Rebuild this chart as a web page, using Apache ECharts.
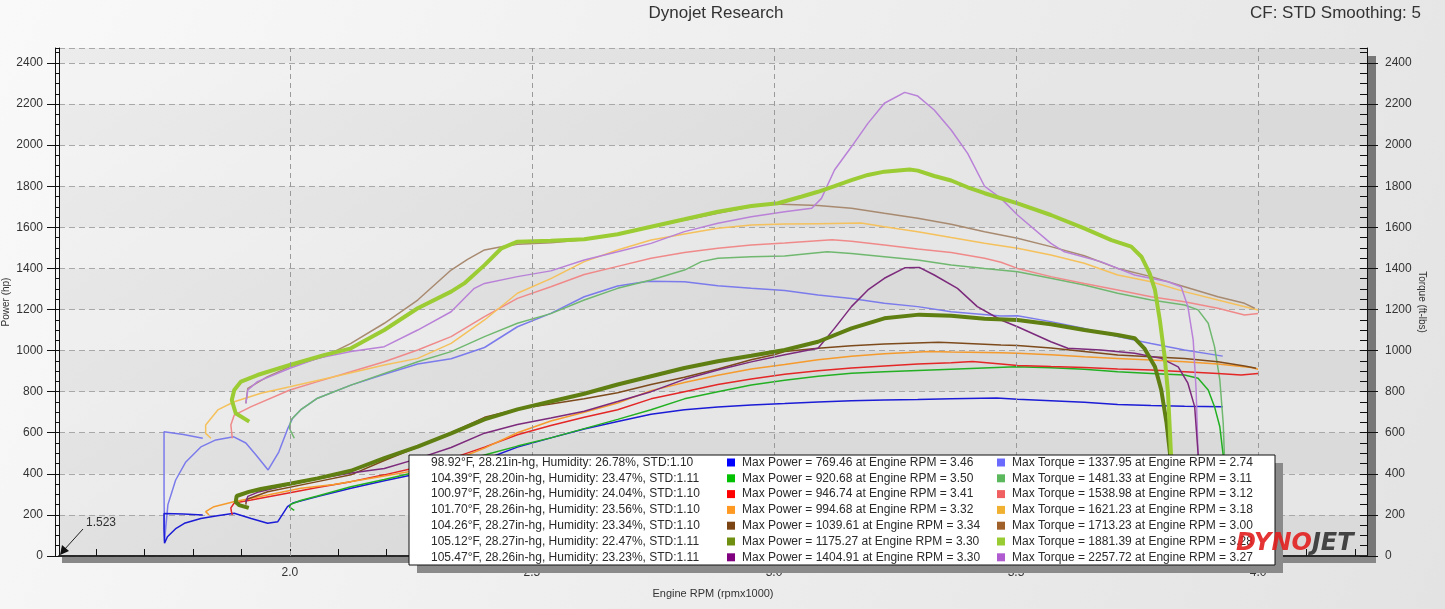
<!DOCTYPE html>
<html>
<head>
<meta charset="utf-8">
<title>Dynojet Research</title>
<script src="https://cdn.jsdelivr.net/npm/echarts@6/dist/echarts.min.js"></script>
<style>
  html, body { margin: 0; padding: 0; }
  #chart { width: 1445px; height: 609px; }
</style>
</head>
<body>
<div id="chart"></div>
<script>
// ---- run data, [rpm x1000, value] ----
var bluePower = [[1.820,200],[1.780,204],[1.740,207],[1.740,130],[1.741,62],[1.747,94],[1.765,135],[1.782,159],[1.816,183],[1.850,196],[1.885,208],[1.920,183],[1.954,159],[1.975,167],[1.995,240],[2.006,258],[2.057,290],[2.126,330],[2.195,366],[2.264,400],[2.333,428],[2.402,470],[2.470,530],[2.539,575],[2.608,618],[2.677,655],[2.746,690],[2.815,712],[2.884,725],[2.953,735],[3.022,742],[3.091,750],[3.160,756],[3.228,760],[3.297,762],[3.366,765],[3.460,769],[3.503,763],[3.572,756],[3.641,748],[3.710,738],[3.779,733],[3.848,729],[3.927,727]];
var blueTorque = [[1.820,573],[1.780,592],[1.740,605],[1.740,300],[1.741,75],[1.748,250],[1.764,370],[1.785,458],[1.816,531],[1.847,565],[1.884,580],[1.909,550],[1.930,492],[1.955,419],[1.977,506],[1.996,623],[2.006,672],[2.022,711],[2.057,768],[2.126,832],[2.195,885],[2.264,935],[2.333,960],[2.402,1015],[2.470,1116],[2.539,1181],[2.608,1262],[2.677,1314],[2.740,1338],[2.815,1335],[2.884,1316],[2.953,1303],[3.022,1292],[3.091,1271],[3.160,1254],[3.228,1230],[3.297,1214],[3.366,1189],[3.469,1168],[3.503,1170],[3.572,1141],[3.641,1108],[3.710,1068],[3.779,1035],[3.848,1003],[3.927,973]];
var greenPower = [[2.009,222],[1.999,238],[2.002,252],[2.022,270],[2.057,292],[2.126,337],[2.195,372],[2.264,410],[2.333,445],[2.402,492],[2.470,535],[2.539,575],[2.608,620],[2.677,665],[2.746,712],[2.815,765],[2.884,800],[2.953,832],[3.022,855],[3.091,875],[3.160,890],[3.228,897],[3.297,903],[3.366,909],[3.500,921],[3.572,916],[3.641,909],[3.710,897],[3.779,889],[3.848,881],[3.876,865],[3.897,808],[3.910,727],[3.921,629],[3.930,450],[3.933,100]];
var greenTorque = [[2.009,573],[1.999,622],[2.002,662],[2.022,711],[2.057,768],[2.126,832],[2.195,889],[2.264,946],[2.333,995],[2.402,1068],[2.470,1133],[2.539,1180],[2.608,1246],[2.677,1303],[2.746,1344],[2.815,1392],[2.850,1433],[2.884,1449],[2.953,1457],[3.022,1460],[3.110,1481],[3.160,1473],[3.228,1457],[3.297,1441],[3.366,1417],[3.435,1400],[3.503,1384],[3.572,1352],[3.641,1319],[3.710,1279],[3.779,1246],[3.848,1222],[3.876,1198],[3.897,1133],[3.910,1019],[3.921,857],[3.928,646],[3.931,450],[3.933,100]];
var redPower = [[1.881,200],[1.879,218],[1.878,234],[1.885,258],[1.920,273],[2.000,308],[2.057,333],[2.126,362],[2.195,395],[2.264,432],[2.333,474],[2.402,530],[2.470,590],[2.539,635],[2.608,675],[2.677,712],[2.746,765],[2.815,800],[2.884,835],[2.953,862],[3.022,885],[3.091,902],[3.160,915],[3.228,925],[3.297,935],[3.366,941],[3.410,947],[3.469,935],[3.503,927],[3.572,922],[3.641,918],[3.710,910],[3.779,905],[3.848,897],[3.917,889],[3.965,881],[4.000,889]];
var redTorque = [[1.881,573],[1.878,638],[1.885,686],[1.920,727],[2.000,808],[2.057,849],[2.126,897],[2.195,946],[2.264,1003],[2.333,1068],[2.402,1165],[2.470,1254],[2.539,1311],[2.608,1370],[2.677,1410],[2.746,1449],[2.815,1477],[2.884,1498],[2.953,1514],[3.022,1524],[3.120,1539],[3.160,1532],[3.228,1514],[3.297,1495],[3.366,1478],[3.435,1449],[3.469,1430],[3.503,1400],[3.572,1360],[3.641,1327],[3.710,1295],[3.779,1262],[3.848,1238],[3.917,1206],[3.972,1173],[4.000,1181]];
var orangePower = [[1.833,200],[1.826,216],[1.843,240],[1.884,264],[1.954,297],[2.023,330],[2.091,348],[2.195,389],[2.264,418],[2.333,460],[2.402,525],[2.470,600],[2.539,657],[2.608,700],[2.677,745],[2.746,805],[2.815,845],[2.884,880],[2.953,910],[3.022,932],[3.091,955],[3.160,972],[3.228,985],[3.320,995],[3.366,993],[3.469,990],[3.503,987],[3.572,980],[3.641,970],[3.710,962],[3.779,954],[3.848,946],[3.917,935],[3.986,918],[4.000,909]];
var orangeTorque = [[1.837,573],[1.826,597],[1.826,638],[1.851,711],[1.885,751],[1.940,792],[2.000,824],[2.091,873],[2.195,930],[2.264,962],[2.333,1035],[2.402,1149],[2.470,1279],[2.539,1350],[2.608,1433],[2.677,1490],[2.746,1538],[2.815,1567],[2.884,1595],[2.953,1611],[3.022,1616],[3.091,1618],[3.180,1621],[3.228,1603],[3.297,1579],[3.366,1550],[3.435,1522],[3.503,1498],[3.572,1465],[3.641,1425],[3.710,1368],[3.779,1335],[3.848,1287],[3.917,1246],[4.000,1198]];
var brownPower = [[1.909,250],[1.910,275],[1.954,313],[2.057,362],[2.126,395],[2.195,465],[2.264,530],[2.333,600],[2.402,675],[2.470,715],[2.539,740],[2.608,765],[2.677,795],[2.746,835],[2.815,870],[2.884,910],[2.953,955],[3.000,980],[3.022,995],[3.091,1011],[3.160,1024],[3.228,1032],[3.340,1040],[3.366,1038],[3.469,1027],[3.503,1025],[3.572,1012],[3.641,995],[3.710,978],[3.779,970],[3.848,962],[3.917,946],[3.972,925],[3.996,914]];
var brownTorque = [[1.909,743],[1.913,816],[1.954,873],[2.000,922],[2.070,970],[2.126,1035],[2.195,1133],[2.264,1246],[2.333,1392],[2.367,1444],[2.402,1490],[2.437,1506],[2.470,1518],[2.539,1525],[2.608,1540],[2.677,1565],[2.746,1600],[2.815,1635],[2.884,1668],[2.953,1700],[3.000,1713],[3.091,1706],[3.160,1693],[3.228,1668],[3.297,1644],[3.366,1615],[3.435,1579],[3.503,1547],[3.572,1506],[3.641,1462],[3.710,1400],[3.779,1360],[3.848,1311],[3.917,1262],[3.972,1230],[3.993,1206]];
var olivePower = [[1.915,234],[1.895,248],[1.888,263],[1.890,292],[1.915,312],[1.940,326],[2.000,352],[2.057,378],[2.126,415],[2.195,476],[2.264,532],[2.333,597],[2.402,665],[2.470,714],[2.539,752],[2.608,790],[2.677,835],[2.746,875],[2.815,915],[2.884,948],[2.953,975],[3.022,1003],[3.091,1043],[3.160,1108],[3.228,1157],[3.300,1175],[3.366,1170],[3.435,1155],[3.503,1149],[3.572,1128],[3.641,1100],[3.710,1076],[3.745,1060],[3.765,1011],[3.787,921],[3.800,808],[3.811,646],[3.818,500],[3.824,200],[3.826,50]];
var limeTorque = [[1.916,654],[1.888,695],[1.880,759],[1.885,808],[1.899,849],[1.933,881],[2.000,930],[2.070,978],[2.126,1011],[2.195,1100],[2.264,1206],[2.333,1287],[2.360,1327],[2.402,1416],[2.437,1498],[2.470,1530],[2.539,1535],[2.608,1542],[2.677,1566],[2.746,1603],[2.815,1639],[2.884,1676],[2.953,1704],[3.008,1717],[3.056,1749],[3.091,1773],[3.125,1801],[3.160,1830],[3.194,1855],[3.228,1871],[3.280,1881],[3.297,1876],[3.331,1850],[3.366,1828],[3.400,1795],[3.435,1766],[3.503,1717],[3.572,1660],[3.641,1595],[3.697,1538],[3.738,1506],[3.759,1457],[3.776,1376],[3.787,1295],[3.797,1149],[3.807,970],[3.814,792],[3.820,500],[3.824,200],[3.826,50]];
var purplePower = [[1.909,262],[1.913,290],[1.933,310],[2.000,348],[2.057,376],[2.126,404],[2.195,426],[2.264,474],[2.333,528],[2.402,598],[2.470,640],[2.539,672],[2.608,705],[2.677,752],[2.746,800],[2.815,860],[2.884,905],[2.953,945],[3.022,980],[3.091,1011],[3.125,1108],[3.160,1214],[3.194,1295],[3.228,1352],[3.270,1403],[3.300,1405],[3.331,1368],[3.379,1303],[3.420,1214],[3.469,1149],[3.503,1116],[3.572,1043],[3.607,1011],[3.675,1003],[3.745,987],[3.800,962],[3.835,921],[3.855,841],[3.869,727],[3.876,500],[3.880,200],[3.881,50]];
var purpleTorque = [[1.909,743],[1.913,808],[1.933,849],[2.000,914],[2.057,962],[2.126,995],[2.195,1019],[2.264,1100],[2.333,1189],[2.381,1303],[2.402,1327],[2.470,1360],[2.539,1388],[2.608,1441],[2.677,1481],[2.746,1522],[2.815,1579],[2.884,1620],[2.953,1652],[3.022,1676],[3.078,1693],[3.098,1741],[3.125,1879],[3.160,1992],[3.194,2106],[3.228,2204],[3.270,2257],[3.297,2239],[3.331,2171],[3.366,2074],[3.400,1960],[3.435,1800],[3.469,1741],[3.503,1660],[3.572,1522],[3.600,1481],[3.675,1433],[3.745,1368],[3.814,1335],[3.841,1311],[3.855,1214],[3.866,1051],[3.872,808],[3.876,500],[3.880,200],[3.881,50]];

// ---- legend table ----
var runConditions = [
  '98.92°F, 28.21in-hg, Humidity: 26.78%, STD:1.10',
  '104.39°F, 28.20in-hg, Humidity: 23.47%, STD:1.11',
  '100.97°F, 28.26in-hg, Humidity: 24.04%, STD:1.10',
  '101.70°F, 28.26in-hg, Humidity: 23.56%, STD:1.10',
  '104.26°F, 28.27in-hg, Humidity: 23.34%, STD:1.10',
  '105.12°F, 28.27in-hg, Humidity: 22.47%, STD:1.11',
  '105.47°F, 28.26in-hg, Humidity: 23.23%, STD:1.11'
];
var maxPower = [769.46, 920.68, 946.74, 994.68, 1039.61, 1175.27, 1404.91];
var maxPowerRpm = ['3.46', '3.50', '3.41', '3.32', '3.34', '3.30', '3.30'];
var maxTorque = [1337.95, 1481.33, 1538.98, 1621.23, 1713.23, 1881.39, 2257.72];
var maxTorqueRpm = ['2.74', '3.11', '3.12', '3.18', '3.00', '3.28', '3.27'];

// ---- axes ----
var xLabels = [2.0, 2.5, 3.0, 3.5, 4.0];
var xMinorTicks = [1.6,1.7,1.8,1.9,2.0,2.1,2.2,2.3,2.4,2.5,2.6,2.7,2.8,2.9,3.0,3.1,3.2,3.3,3.4,3.5,3.6,3.7,3.8,3.9,4.0,4.1,4.2];
var xMin = 1.523, xMax = 4.225;
var yMin = 0, yMax = 2473, yStep = 200;

var powerColors  = ['#1c1cd6', '#22b022', '#e42626', '#f59a2c', '#7d4a1c', '#5f7f12', '#7c2a7c'];
var torqueColors = ['#7b7bec', '#70b870', '#f08a8a', '#f5c15c', '#a88a70', '#9ccc34', '#b982d8'];
var powerKey  = ['#0000ff', '#00c000', '#ff0000', '#ff9922', '#7b4513', '#6f8f10', '#800080'];
var torqueKey = ['#6a6aff', '#5cb85c', '#f06060', '#f0b030', '#a0602a', '#99cc33', '#b05cd0'];

var powerRuns  = [bluePower, greenPower, redPower, orangePower, brownPower, olivePower, purplePower];
var torqueRuns = [blueTorque, greenTorque, redTorque, orangeTorque, brownTorque, limeTorque, purpleTorque];

var chart = echarts.init(document.getElementById('chart'));
var font = 'Liberation Sans, Arial, sans-serif';
var plain = function (v) { return String(v); };

function run(name, data, color, width, yIdx, z) {
  return {
    name: name, type: 'line', data: data, xAxisIndex: 0, yAxisIndex: yIdx,
    showSymbol: false, symbol: 'none', silent: true, z: z,
    lineStyle: { color: color, width: width }
  };
}

var series = [{
  type: 'line', data: [], xAxisIndex: 0, yAxisIndex: 0, z: 1,
  markLine: {
    silent: true, symbol: 'none', label: { show: false },
    lineStyle: { type: [5, 4], color: '#9a9a9a', width: 1 },
    data: xLabels.map(function (v) { return { xAxis: v }; })
  }
}];
// thin runs first, the two thick runs on top
[0, 1, 2, 3, 4, 6].forEach(function (i) {
  series.push(run('torque' + i, torqueRuns[i], torqueColors[i], 1.5, 1, 3));
  series.push(run('power' + i, powerRuns[i], powerColors[i], 1.5, 0, 3));
});
series.push(run('power5', powerRuns[5], powerColors[5], 4, 0, 4));
series.push(run('torque5', torqueRuns[5], torqueColors[5], 4, 1, 4));

// legend table graphic
var box = { x: 409, y: 455, w: 866, h: 110 };
var legendItems = [
  { type: 'rect', shape: { x: box.x + 8, y: box.y + 8, width: box.w, height: box.h }, style: { fill: '#8a8a8a' }, z: 100 },
  { type: 'rect', shape: { x: box.x, y: box.y, width: box.w, height: box.h }, style: { fill: '#ffffff', stroke: '#111', lineWidth: 1 }, z: 101 }
];
runConditions.forEach(function (txt, i) {
  var y = 462.5 + i * 15.8;
  var st = { font: '12px ' + font, fill: '#2a2a2a', verticalAlign: 'middle' };
  legendItems.push({ type: 'text', x: 431, y: y, style: Object.assign({ text: txt }, st), z: 102 });
  legendItems.push({ type: 'rect', shape: { x: 727, y: y - 4, width: 8, height: 8 }, style: { fill: powerKey[i] }, z: 102 });
  legendItems.push({ type: 'text', x: 742, y: y, style: Object.assign({ text: 'Max Power = ' + maxPower[i].toFixed(2) + ' at Engine RPM = ' + maxPowerRpm[i] }, st), z: 102 });
  legendItems.push({ type: 'rect', shape: { x: 997, y: y - 4, width: 8, height: 8 }, style: { fill: torqueKey[i] }, z: 102 });
  legendItems.push({ type: 'text', x: 1012, y: y, style: Object.assign({ text: 'Max Torque = ' + maxTorque[i].toFixed(2) + ' at Engine RPM = ' + maxTorqueRpm[i] }, st), z: 102 });
});

var option = {
  animation: false,
  backgroundColor: {
    type: 'linear', x: 0, y: 0, x2: 1, y2: 1,
    colorStops: [{ offset: 0, color: '#f9f9f9' }, { offset: 1, color: '#e3e3e3' }]
  },
  grid: {
    left: 59, right: 78, top: 48, bottom: 53, show: true, borderWidth: 0,
    outerBoundsMode: 'none', containLabel: false,
    backgroundColor: {
      type: 'linear', x: 0, y: 0, x2: 0.3, y2: 1,
      colorStops: [{ offset: 0, color: '#f2f2f2' }, { offset: 1, color: '#e0e0e0' }]
    }
  },
  xAxis: [{
    type: 'value', min: xMin, max: xMax, position: 'bottom',
    name: 'Engine RPM (rpmx1000)', nameLocation: 'middle', nameGap: 32, nameMoveOverlap: false,
    nameTextStyle: { fontFamily: font, fontSize: 11, color: '#333' },
    axisLine: { show: true, lineStyle: { color: '#111', width: 1.5 } },
    axisTick: { show: true, inside: true, length: 7, customValues: xMinorTicks, lineStyle: { color: '#111' } },
    axisLabel: { customValues: xLabels, margin: 11, fontFamily: font, fontSize: 12, color: '#333',
      formatter: function (v) { return v.toFixed(1); } },
    splitLine: { show: false }
  }, {
    type: 'value', min: xMin, max: xMax, position: 'top',
    axisLine: { show: true, lineStyle: { color: '#222', width: 1.5 } },
    axisTick: { show: false }, axisLabel: { show: false }, splitLine: { show: false }
  }],
  yAxis: [{
    type: 'value', min: yMin, max: yMax, interval: yStep, position: 'left',
    name: 'Power (hp)', nameLocation: 'middle', nameGap: 48, nameRotate: 90, nameMoveOverlap: false,
    nameTextStyle: { fontFamily: font, fontSize: 10, color: '#333' },
    axisLine: { show: true, lineStyle: { color: '#111' } },
    axisTick: { show: true, length: 12, lineStyle: { color: '#111' } },
    axisLabel: { margin: 16, fontFamily: font, fontSize: 12, color: '#333', showMaxLabel: false, formatter: plain },
    splitLine: { show: true, lineStyle: { type: [6, 4], color: '#a8a8a8' } },
    splitArea: { show: true, areaStyle: { color: ['rgba(0,0,0,0.025)', 'rgba(255,255,255,0.2)'] } }
  }, {
    type: 'value', min: yMin, max: yMax, interval: yStep, position: 'right',
    name: 'Torque (ft-lbs)', nameLocation: 'middle', nameGap: 50, nameRotate: -90, nameMoveOverlap: false,
    nameTextStyle: { fontFamily: font, fontSize: 10, color: '#333' },
    axisLine: { show: true, lineStyle: { color: '#111' } },
    axisTick: { show: true, length: 11, lineStyle: { color: '#111' } },
    axisLabel: { margin: 18, fontFamily: font, fontSize: 12, color: '#333', showMaxLabel: false, formatter: plain },
    splitLine: { show: false }
  }, {
    type: 'value', min: yMin, max: yMax, interval: 50, position: 'left',
    axisLine: { show: false }, axisLabel: { show: false }, splitLine: { show: false },
    axisTick: { show: true, length: 4, lineStyle: { color: '#111' } }
  }, {
    type: 'value', min: yMin, max: yMax, interval: 50, position: 'left', offset: 4,
    axisLine: { show: true, lineStyle: { color: '#111' } }, axisLabel: { show: false },
    splitLine: { show: false }, axisTick: { show: false }
  }, {
    type: 'value', min: yMin, max: yMax, interval: 50, position: 'right',
    axisLine: { show: false }, axisLabel: { show: false }, splitLine: { show: false },
    axisTick: { show: true, inside: true, length: 7, lineStyle: { color: '#111' } }
  }],
  series: series,
  graphic: [
    { type: 'text', x: 716, y: 13, style: { text: 'Dynojet Research', font: '17px ' + font, fill: '#333', align: 'center', verticalAlign: 'middle' } },
    { type: 'text', x: 1421, y: 13, style: { text: 'CF: STD Smoothing: 5', font: '17px ' + font, fill: '#333', align: 'right', verticalAlign: 'middle' } },
    // shadows right of / below the plot
    { type: 'rect', shape: { x: 1368, y: 56, width: 8, height: 507 }, style: { fill: '#777' }, z: -1 },
    { type: 'rect', shape: { x: 62, y: 557, width: 1314, height: 6 }, style: { fill: '#888' }, z: -1 },
    // 1.523 marker
    { type: 'text', x: 86, y: 523, style: { text: '1.523', font: '12px ' + font, fill: '#333', verticalAlign: 'middle' } },
    { type: 'line', shape: { x1: 83, y1: 529, x2: 64, y2: 550 }, style: { stroke: '#222', lineWidth: 1 } },
    { type: 'polygon', shape: { points: [[60, 555], [62, 545], [69, 551]] }, style: { fill: '#111' } },
    { type: 'group', children: legendItems },
    {
      type: 'text', x: 1236, y: 544, z: 110,
      style: {
        text: '{d|DYNO}{j|JET}', verticalAlign: 'middle',
        rich: {
          d: { font: 'italic bold 24px DejaVu Sans, sans-serif', fill: 'rgba(226,30,30,0.9)' },
          j: { font: 'italic bold 24px DejaVu Sans, sans-serif', fill: 'rgba(50,50,50,0.9)' }
        }
      }
    }
  ]
};
chart.setOption(option);
</script>
</body>
</html>
